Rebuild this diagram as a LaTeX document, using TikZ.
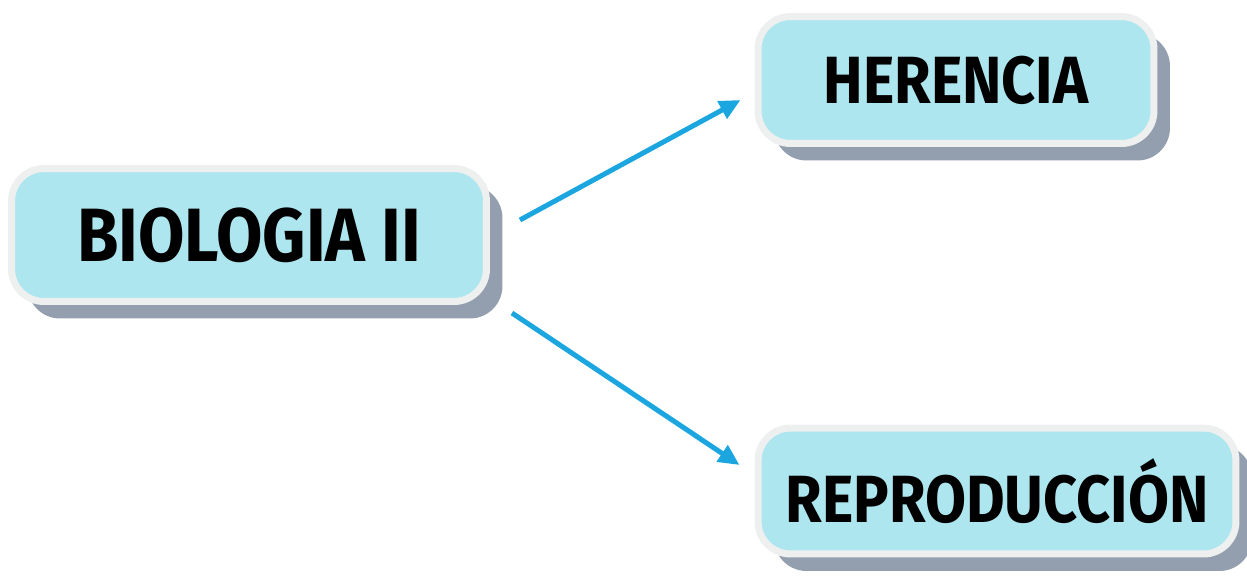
\documentclass[tikz,border=0pt]{standalone}
\usepackage{fontspec}
\setmainfont{Fira Sans}[BoldFeatures={FakeStretch=0.89}]
\usetikzlibrary{arrows.meta,shadows}
\definecolor{boxfill}{HTML}{AEE6EF}
\definecolor{boxrim}{HTML}{EEF0F0}
\definecolor{boxshade}{HTML}{939FAF}
\definecolor{arrowblue}{HTML}{1CA6E0}
\begin{document}
\begin{tikzpicture}[x=0.02cm,y=-0.02cm,line join=round,line cap=round,
  topic/.style={draw=boxrim,line width=0.14cm,fill=boxfill,rounded corners=0.65cm,
    inner sep=0pt,align=center,font=\bfseries\fontsize{38}{40}\selectfont,
    drop shadow={shadow xshift=0.32cm,shadow yshift=-0.34cm,fill=boxshade,opacity=1}},
  link/.style={draw=arrowblue,line width=0.1cm,line cap=butt,-{Triangle[length=0.42cm,width=0.38cm]}}]
  \useasboundingbox (0,0) rectangle (1247,578);
  \node[topic,minimum width=9.5cm,minimum height=2.66cm,font=\bfseries\fontsize{43}{45}\selectfont] (bio) at (249,235) {BIOLOGIA II};
  \node[topic,minimum width=7.92cm,minimum height=2.54cm] (her) at (956,80) {HERENCIA};
  \node[topic,minimum width=9.56cm,minimum height=2.52cm] (rep) at (997,491) {REPRODUCCIÓN};
  \draw[link] ([shift={(30,-15)}]bio.east) -- ([shift={(-14,20)}]her.west);
  \draw[link] ([shift={(22,78)}]bio.east) -- ([shift={(-15,-26)}]rep.west);
\end{tikzpicture}
\end{document}
